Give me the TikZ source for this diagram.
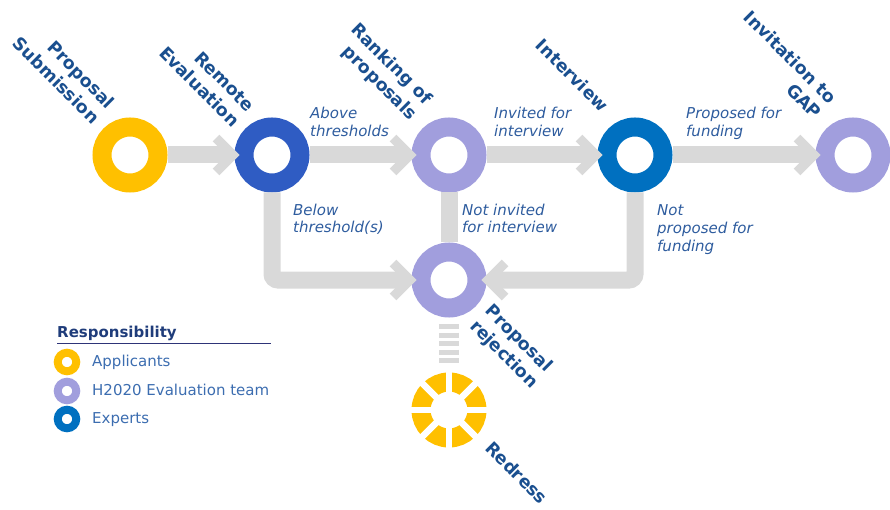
\documentclass[tikz,border=0pt]{standalone}
\usepackage{fontspec}
\setmainfont{DejaVu Sans}
\definecolor{cyellow}{HTML}{FFC000}
\definecolor{cdblue}{HTML}{2F5CC3}
\definecolor{clav}{HTML}{A19EDD}
\definecolor{cblue}{HTML}{0070C0}
\definecolor{linegray}{HTML}{D9D9D9}
\definecolor{lblue}{HTML}{1A4F8F}
\definecolor{iblue}{HTML}{2E5C9E}
\definecolor{legblue}{HTML}{3C6DB0}
\definecolor{titleblue}{HTML}{1F3C7A}
\definecolor{rulecol}{HTML}{2E3478}
\begin{document}
\begin{tikzpicture}[x=1pt,y=1pt,
  ring/.style={circle, draw=#1, line width=19pt, minimum size=56pt, inner sep=0pt},
  legring/.style={circle, draw=#1, line width=8pt, minimum size=18.5pt, inner sep=0pt},
  bar/.style={draw=linegray, line width=17pt},
  chev/.style={draw=linegray, line width=9.5pt, line join=miter, miter limit=10},
  dashbar/.style={draw=linegray, line width=20pt, dash pattern=on 5pt off 3.5pt},
  steplabel/.style={font=\fontsize{17.5}{21.5}\selectfont\bfseries, text=lblue, rotate=-45, inner sep=0pt, align=right, anchor=base east},
  steplabelL/.style={font=\fontsize{17.5}{21.5}\selectfont\bfseries, text=lblue, rotate=-45, inner sep=0pt, align=left, anchor=base west},
  flowlabel/.style={font=\fontsize{15}{18}\selectfont\itshape, text=iblue, inner sep=0pt, align=left, anchor=base west},
  legtext/.style={font=\fontsize{15}{18}\selectfont, text=legblue, inner sep=0pt, anchor=base west}
]
\useasboundingbox (0,0) rectangle (890,509);
% stations
\node[ring=cyellow] (ps) at (130,354) {};
\node[ring=cdblue] (re) at (272,354) {};
\node[ring=clav] (rk) at (449,354) {};
\node[ring=cblue] (iv) at (635,354) {};
\node[ring=clav] (gap) at (853,354) {};
\node[ring=clav] (rj) at (449,229) {};
\node[ring=cyellow] (rd) at (449,99) {};
\foreach \a in {0,45,90,135}
  \draw[white, line width=6.5pt] ([shift={(\a:40)}]rd.center) -- ([shift={(\a+180:40)}]rd.center);
% horizontal connectors
\draw[bar] (ps.east) -- ([xshift=-4.5pt]re.west);
\draw[chev] ([shift={(-18.5,17)}]re.west) -- ([xshift=-1.5pt]re.west) -- ([shift={(-18.5,-17)}]re.west);
\draw[bar] (re.east) -- ([xshift=-4.5pt]rk.west);
\draw[chev] ([shift={(-18.5,17)}]rk.west) -- ([xshift=-1.5pt]rk.west) -- ([shift={(-18.5,-17)}]rk.west);
\draw[bar] (rk.east) -- ([xshift=-4.5pt]iv.west);
\draw[chev] ([shift={(-18.5,17)}]iv.west) -- ([xshift=-1.5pt]iv.west) -- ([shift={(-18.5,-17)}]iv.west);
\draw[bar] (iv.east) -- ([xshift=-4.5pt]gap.west);
\draw[chev] ([shift={(-18.5,17)}]gap.west) -- ([xshift=-1.5pt]gap.west) -- ([shift={(-18.5,-17)}]gap.west);
% rejection connectors
\draw[bar, rounded corners=6pt] (re.south) |- ([xshift=-4.5pt]rj.west);
\draw[chev] ([shift={(-18.5,17)}]rj.west) -- ([xshift=-1.5pt]rj.west) -- ([shift={(-18.5,-17)}]rj.west);
\draw[bar] (rk.south) -- (rj.north);
\draw[bar, rounded corners=6pt] (iv.south) |- ([xshift=4.5pt]rj.east);
\draw[chev] ([shift={(18.5,17)}]rj.east) -- ([xshift=1.5pt]rj.east) -- ([shift={(18.5,-17)}]rj.east);
\draw[dashbar] ([yshift=-6.5pt]rj.south) -- ([yshift=9.5pt]rd.north);
% station labels
\node[steplabel] (lps) at (92,384) {Proposal\\Submission};
\node[steplabel] (lre) at (232,381) {Remote\\Evaluation};
\node[steplabel] (lrk) at (410,388) {Ranking of\\proposals};
\node[steplabel] (liv) at (601,396) {Interview};
\node[steplabel] (lgap) at (814,389) {Invitation to\\GAP};
\node[steplabelL] (lrj) at (469,182) {Proposal\\rejection};
\node[steplabelL] (lrd) at (484,60) {Redress};
% flow labels
\node[flowlabel] (f1) at (310,372) {Above\\thresholds};
\node[flowlabel] (f2) at (494,372) {Invited for\\interview};
\node[flowlabel] (f3) at (686,372) {Proposed for\\funding};
\node[flowlabel] (f4) at (293,276) {Below\\threshold(s)};
\node[flowlabel] (f5) at (462,276) {Not invited\\for interview};
\node[flowlabel] (f6) at (657,258) {Not\\proposed for\\funding};
% legend
\node[font=\fontsize{15}{18}\selectfont\bfseries, text=titleblue, inner sep=0pt, anchor=base west] (lt) at (57,172) {Responsibility};
\coordinate (ul1) at (57,166);
\coordinate (ul2) at (271,166);
\draw[rulecol, line width=1pt] (ul1) -- (ul2);
\node[legring=cyellow] (l1) at (67,147) {};
\node[legring=clav] (l2) at (67,118) {};
\node[legring=cblue] (l3) at (67,90) {};
\node[legtext] (t1) at (92,143) {Applicants};
\node[legtext] (t2) at (92,114) {H2020 Evaluation team};
\node[legtext] (t3) at (92,86) {Experts};
\end{tikzpicture}
\end{document}
